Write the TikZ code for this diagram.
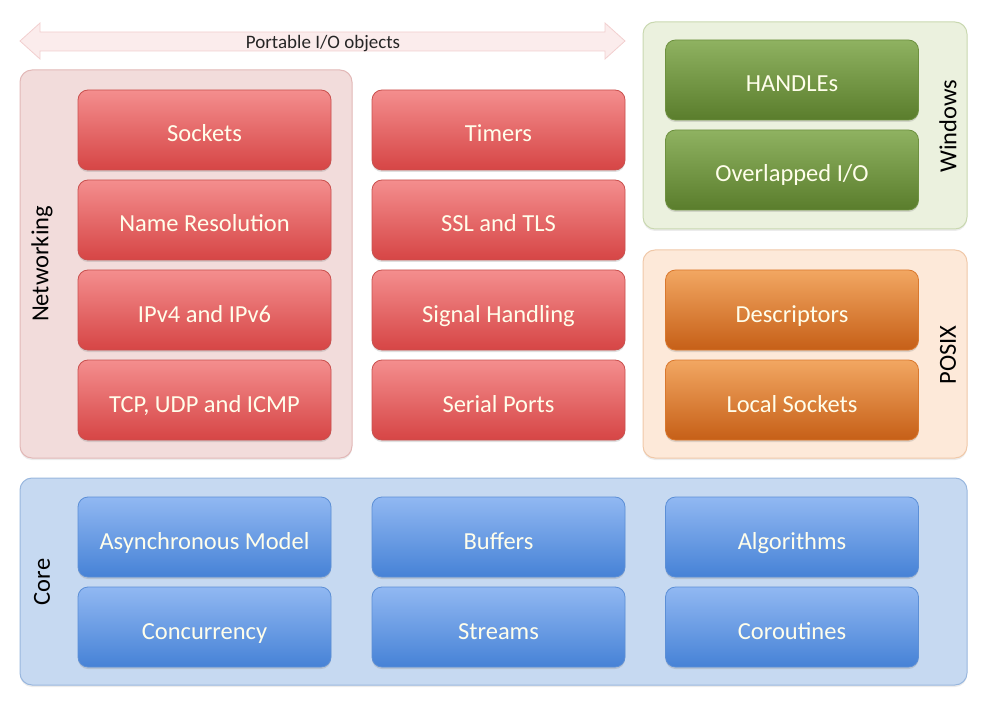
\documentclass[tikz,border=0pt]{standalone}
\usepackage{fontspec}
\setmainfont{Carlito}
\usetikzlibrary{shadows}
\definecolor{redtop}{HTML}{F48E8E}
\definecolor{redbot}{HTML}{D64545}
\definecolor{redln}{HTML}{C9504E}
\definecolor{greentop}{HTML}{8FB261}
\definecolor{greenbot}{HTML}{5A7D2C}
\definecolor{greenln}{HTML}{6E9140}
\definecolor{orangetop}{HTML}{F2A762}
\definecolor{orangebot}{HTML}{C65F17}
\definecolor{orangeln}{HTML}{D9782E}
\definecolor{bluetop}{HTML}{91B8F2}
\definecolor{bluebot}{HTML}{4682D6}
\definecolor{blueln}{HTML}{5C8FD6}
\definecolor{netfill}{HTML}{F2DCDB}
\definecolor{netln}{HTML}{E2B8B7}
\definecolor{winfill}{HTML}{EBF1DE}
\definecolor{winln}{HTML}{C9D8B0}
\definecolor{posfill}{HTML}{FDE9D9}
\definecolor{posln}{HTML}{F0C8A8}
\definecolor{corefill}{HTML}{C6D9F1}
\definecolor{coreln}{HTML}{99B7DE}
\definecolor{arrfill}{HTML}{FBECEC}
\definecolor{arrln}{HTML}{F2CFCF}
\tikzset{
  box/.style={rounded corners=10pt, minimum width=253pt, minimum height=80pt,
    inner sep=0pt, line width=0.8pt,
    drop shadow={shadow xshift=0pt, shadow yshift=-2pt, opacity=0.25}},
  redbox/.style={box, draw=redln, top color=redtop, bottom color=redbot},
  greenbox/.style={box, draw=greenln, top color=greentop, bottom color=greenbot},
  orangebox/.style={box, draw=orangeln, top color=orangetop, bottom color=orangebot},
  bluebox/.style={box, draw=blueln, top color=bluetop, bottom color=bluebot},
  boxtext/.style={font=\fontsize{24.5}{28}\selectfont, text=white!92!yellow,
    inner sep=0pt, anchor=base, yshift=-12pt},
  group/.style={rounded corners=12pt, line width=1pt,
    drop shadow={shadow xshift=0pt, shadow yshift=-2pt, opacity=0.15}},
  grouplabel/.style={font=\fontsize{24.5}{28}\selectfont, text=black, inner sep=0pt},
}
\newcommand{\ibox}[4]{%
  \node[#1] (#2) at (#3) {};
  \node[boxtext] (#2-t) at (#2.center) {#4};}
\begin{document}
\begin{tikzpicture}[x=1pt, y=-1pt]
\useasboundingbox (0,0) rectangle (992,708);
% arrow
\draw[fill=arrfill, draw=arrln, line width=0.8pt]
  (20,41) -- (40,23) -- (40,32) -- (605,32) -- (605,23) -- (625,41)
  -- (605,59) -- (605,51) -- (40,51) -- (40,59) -- cycle;
\node[font=\fontsize{19}{21}\selectfont, text=black!85, anchor=base] (arrlabel) at (323,49) {Portable I/O objects};
% groups
\draw[group, fill=netfill, draw=netln] (20,70) rectangle (352,458);
\draw[group, fill=winfill, draw=winln] (643,22) rectangle (967,229);
\draw[group, fill=posfill, draw=posln] (643,250) rectangle (967,458);
\draw[group, fill=corefill, draw=coreln] (20,478) rectangle (967,685);
% group labels
\node[grouplabel, rotate=90] (netlabel) at (42,264) {Networking};
\node[grouplabel, rotate=90] (winlabel) at (948,126) {Windows};
\node[grouplabel, rotate=90] (poslabel) at (948,355) {POSIX};
\node[grouplabel, rotate=90] (corelabel) at (42,582) {Core};
% red boxes
\ibox{redbox}{sockets}{204.5,130}{Sockets}
\ibox{redbox}{nameres}{204.5,220}{Name Resolution}
\ibox{redbox}{ipv}{204.5,310}{IPv4 and IPv6}
\ibox{redbox}{tcp}{204.5,400}{TCP, UDP and ICMP}
\ibox{redbox}{timers}{498.5,130}{Timers}
\ibox{redbox}{ssl}{498.5,220}{SSL and TLS}
\ibox{redbox}{signal}{498.5,310}{Signal Handling}
\ibox{redbox}{serial}{498.5,400}{Serial Ports}
% green
\ibox{greenbox}{handles}{792,80}{HANDLEs}
\ibox{greenbox}{overlapped}{792,170}{Overlapped I/O}
% orange
\ibox{orangebox}{descr}{792,310}{Descriptors}
\ibox{orangebox}{local}{792,400}{Local Sockets}
% blue
\ibox{bluebox}{async}{204.5,537}{Asynchronous Model}
\ibox{bluebox}{conc}{204.5,627}{Concurrency}
\ibox{bluebox}{buffers}{498.5,537}{Buffers}
\ibox{bluebox}{streams}{498.5,627}{Streams}
\ibox{bluebox}{algo}{792,537}{Algorithms}
\ibox{bluebox}{corout}{792,627}{Coroutines}
\end{tikzpicture}
\end{document}
